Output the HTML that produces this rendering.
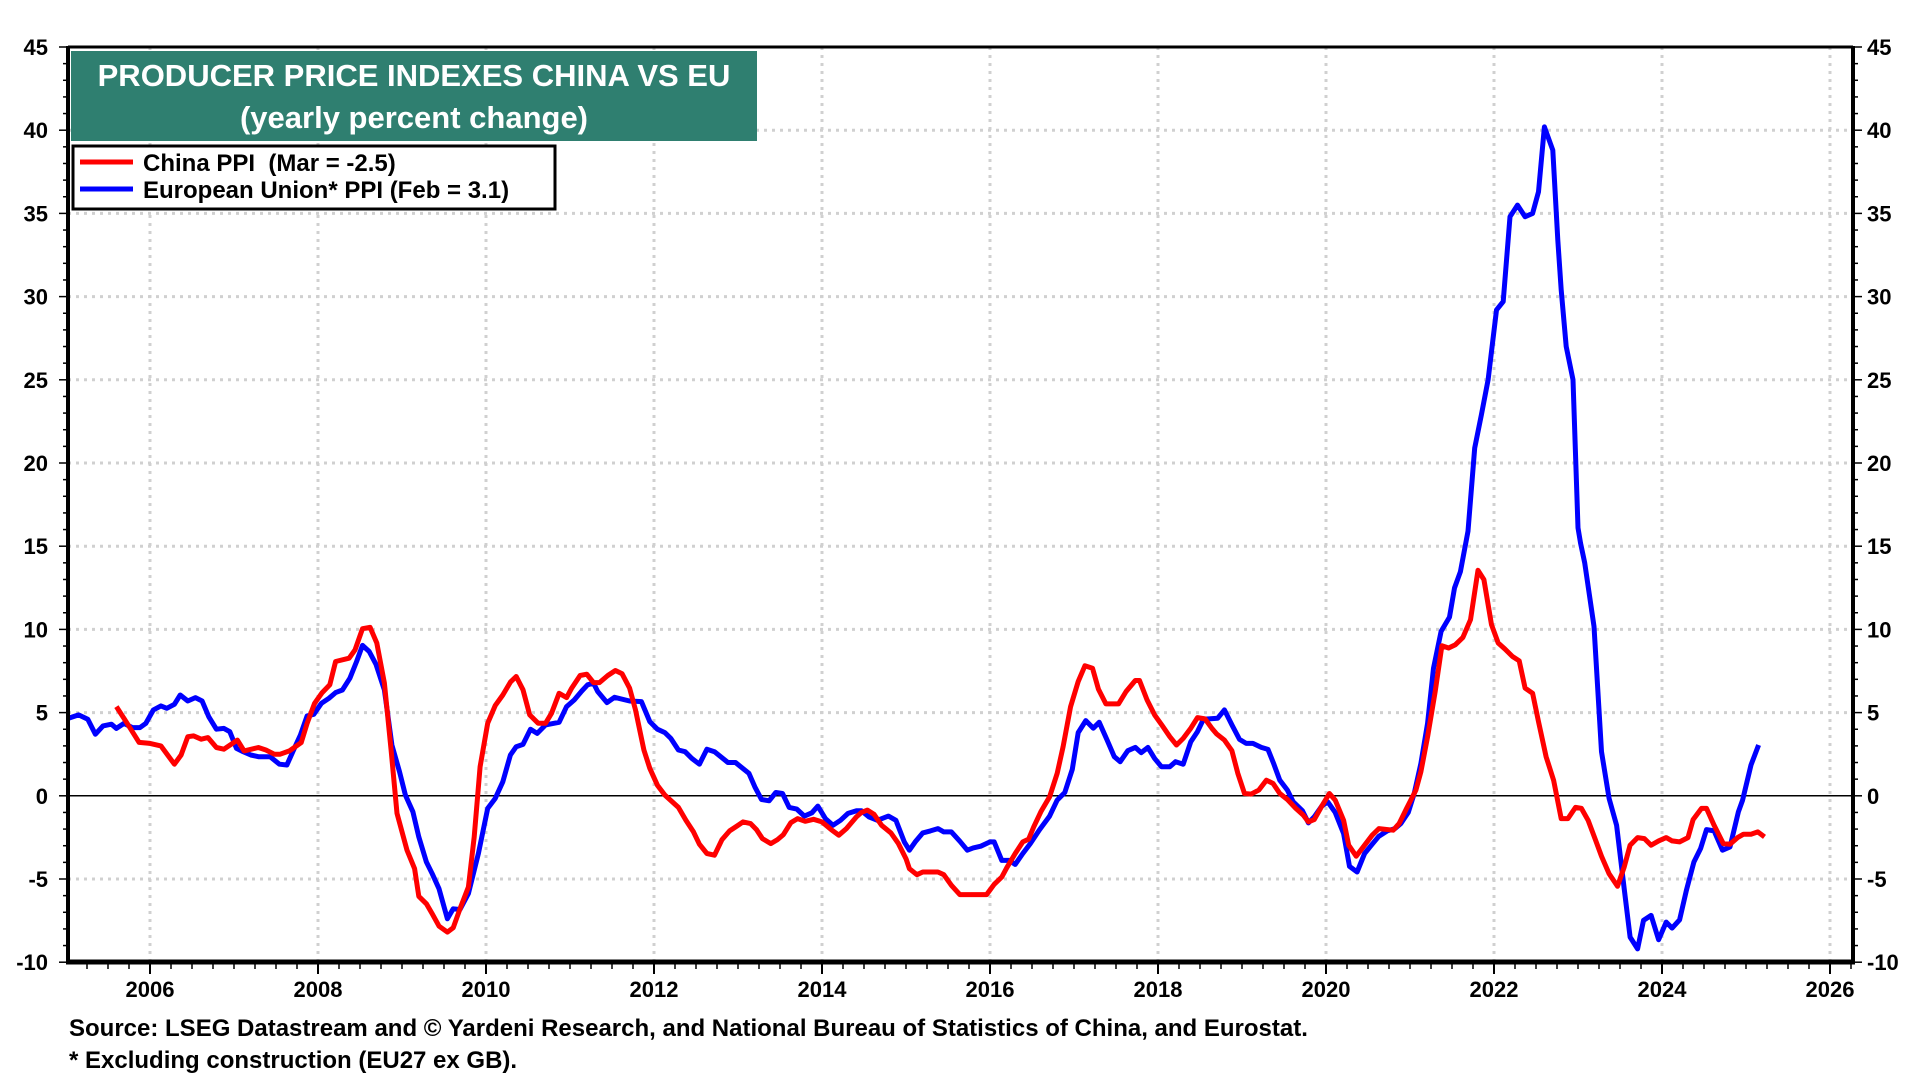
<!DOCTYPE html>
<html><head><meta charset="utf-8"><style>
html,body{margin:0;padding:0;background:#fff;}
svg{display:block;font-family:"Liberation Sans",Arial,sans-serif;font-weight:bold;}
</style></head><body>
<svg id="chart" width="1920" height="1080" viewBox="0 0 1920 1080" xmlns="http://www.w3.org/2000/svg">
<rect width="1920" height="1080" fill="#fff"/>
<g id="grid"></g>
<g id="series"></g>
<g id="axes"></g>
<g>
<rect x="71" y="51" width="686" height="90" fill="#2f7f70"/>
<text x="414" y="86" text-anchor="middle" fill="#fff" font-size="31">PRODUCER PRICE INDEXES CHINA VS EU</text>
<text x="414" y="128" text-anchor="middle" fill="#fff" font-size="31">(yearly percent change)</text>
</g>
<g>
<rect x="73" y="146" width="482" height="63" fill="#fff" stroke="#000" stroke-width="3"/>
<g>
<line x1="80" y1="162" x2="133" y2="162" stroke="#ff0000" stroke-width="5"/>
<text x="143" y="171" font-size="24" xml:space="preserve">China PPI  (Mar = -2.5)</text>
</g>
<g>
<line x1="80" y1="189" x2="133" y2="189" stroke="#0000ff" stroke-width="5"/>
<text x="143" y="198" font-size="24">European Union* PPI (Feb = 3.1)</text>
</g>
</g>
<text x="69" y="1036" font-size="24">Source: LSEG Datastream and © Yardeni Research, and National Bureau of Statistics of China, and Eurostat.</text>
<text x="69" y="1068" font-size="24">* Excluding construction (EU27 ex GB).</text>
</svg>
<script>
const yTicks = [45,40,35,30,25,20,15,10,5,0,-5,-10];
const xTickYears = [2006,2008,2010,2012,2014,2016,2018,2020,2022,2024,2026];
const chinaDates = [2005.6,2005.72,2005.87,2006.0,2006.13,2006.29,2006.37,2006.45,2006.52,2006.61,2006.69,2006.79,2006.88,2007.04,2007.12,2007.29,2007.38,2007.48,2007.55,2007.66,2007.8,2007.87,2007.96,2008.05,2008.14,2008.21,2008.37,2008.44,2008.53,2008.62,2008.7,2008.79,2008.87,2008.94,2009.06,2009.15,2009.2,2009.29,2009.36,2009.44,2009.54,2009.61,2009.69,2009.79,2009.86,2009.93,2010.02,2010.11,2010.2,2010.29,2010.36,2010.44,2010.52,2010.62,2010.71,2010.78,2010.87,2010.96,2011.02,2011.12,2011.2,2011.28,2011.35,2011.45,2011.54,2011.62,2011.71,2011.78,2011.88,2011.95,2012.04,2012.13,2012.29,2012.38,2012.47,2012.54,2012.63,2012.72,2012.81,2012.9,2012.99,2013.06,2013.15,2013.22,2013.29,2013.39,2013.47,2013.54,2013.63,2013.71,2013.8,2013.9,2014.0,2014.11,2014.2,2014.29,2014.41,2014.47,2014.54,2014.62,2014.71,2014.82,2014.91,2015.0,2015.04,2015.13,2015.2,2015.29,2015.38,2015.45,2015.54,2015.64,2015.75,2015.86,2015.96,2016.05,2016.14,2016.2,2016.3,2016.39,2016.46,2016.52,2016.61,2016.71,2016.8,2016.87,2016.96,2017.05,2017.13,2017.22,2017.29,2017.38,2017.53,2017.62,2017.73,2017.78,2017.87,2017.96,2018.05,2018.14,2018.22,2018.3,2018.39,2018.47,2018.56,2018.64,2018.7,2018.79,2018.88,2018.95,2019.03,2019.11,2019.2,2019.29,2019.37,2019.45,2019.54,2019.64,2019.73,2019.79,2019.86,2019.95,2020.04,2020.11,2020.21,2020.27,2020.36,2020.46,2020.55,2020.63,2020.8,2020.87,2020.96,2021.07,2021.13,2021.21,2021.3,2021.38,2021.46,2021.54,2021.63,2021.72,2021.81,2021.88,2021.97,2022.05,2022.13,2022.22,2022.3,2022.37,2022.46,2022.53,2022.62,2022.71,2022.8,2022.88,2022.97,2023.04,2023.12,2023.21,2023.28,2023.37,2023.47,2023.55,2023.62,2023.71,2023.79,2023.87,2023.96,2024.05,2024.12,2024.21,2024.31,2024.37,2024.47,2024.53,2024.62,2024.73,2024.81,2024.9,2024.97,2025.06,2025.14,2025.22];
const chinaValues = [5.36,4.42,3.21,3.15,3.0,1.9,2.45,3.55,3.6,3.4,3.5,2.9,2.8,3.35,2.7,2.9,2.75,2.5,2.5,2.7,3.2,4.35,5.56,6.2,6.67,8.07,8.27,8.77,10.04,10.12,9.18,6.77,2.75,-1.06,-3.27,-4.38,-6.04,-6.49,-7.09,-7.83,-8.19,-7.93,-6.79,-5.48,-2.47,1.75,4.36,5.42,6.06,6.83,7.17,6.37,4.86,4.36,4.36,4.96,6.16,5.9,6.47,7.23,7.31,6.8,6.8,7.23,7.53,7.33,6.47,5.16,2.75,1.65,0.64,0.04,-0.7,-1.47,-2.17,-2.91,-3.47,-3.57,-2.63,-2.11,-1.81,-1.57,-1.67,-2.03,-2.57,-2.87,-2.63,-2.33,-1.61,-1.37,-1.53,-1.41,-1.57,-2.03,-2.37,-1.97,-1.27,-1.0,-0.86,-1.12,-1.77,-2.23,-2.87,-3.78,-4.38,-4.74,-4.58,-4.58,-4.58,-4.74,-5.38,-5.94,-5.94,-5.94,-5.94,-5.32,-4.88,-4.32,-3.47,-2.77,-2.61,-1.87,-0.92,-0.06,1.35,2.95,5.36,6.87,7.81,7.67,6.41,5.52,5.52,6.27,6.93,6.93,5.76,4.86,4.22,3.55,3.05,3.45,4.06,4.7,4.62,4.06,3.71,3.35,2.71,1.35,0.14,0.1,0.34,0.94,0.74,0.14,-0.22,-0.76,-1.16,-1.57,-1.43,-0.62,0.14,-0.26,-1.47,-2.97,-3.63,-2.97,-2.37,-1.97,-2.07,-1.67,-0.76,0.34,1.45,3.55,6.27,9.02,8.88,9.08,9.52,10.58,13.55,12.99,10.28,9.18,8.82,8.37,8.11,6.47,6.16,4.46,2.35,0.94,-1.37,-1.37,-0.7,-0.76,-1.47,-2.67,-3.63,-4.68,-5.44,-4.28,-2.97,-2.51,-2.57,-2.97,-2.71,-2.51,-2.71,-2.77,-2.51,-1.43,-0.76,-0.76,-1.77,-2.87,-2.91,-2.51,-2.31,-2.31,-2.17,-2.47];
const euDates = [2005.03,2005.15,2005.26,2005.35,2005.44,2005.54,2005.6,2005.69,2005.79,2005.88,2005.95,2006.04,2006.13,2006.2,2006.29,2006.36,2006.45,2006.54,2006.62,2006.7,2006.79,2006.88,2006.95,2007.03,2007.11,2007.2,2007.29,2007.43,2007.54,2007.63,2007.7,2007.79,2007.87,2007.95,2008.04,2008.13,2008.21,2008.29,2008.38,2008.46,2008.53,2008.61,2008.69,2008.79,2008.88,2008.97,2009.04,2009.13,2009.2,2009.29,2009.36,2009.44,2009.54,2009.61,2009.69,2009.79,2009.91,2010.02,2010.11,2010.2,2010.29,2010.36,2010.44,2010.53,2010.61,2010.71,2010.87,2010.96,2011.05,2011.14,2011.21,2011.28,2011.33,2011.44,2011.53,2011.71,2011.85,2011.95,2012.04,2012.13,2012.2,2012.29,2012.37,2012.45,2012.54,2012.63,2012.72,2012.88,2012.97,2013.13,2013.2,2013.28,2013.37,2013.45,2013.53,2013.61,2013.7,2013.79,2013.88,2013.95,2014.04,2014.13,2014.22,2014.31,2014.41,2014.47,2014.56,2014.66,2014.79,2014.88,2014.98,2015.04,2015.11,2015.2,2015.29,2015.38,2015.45,2015.54,2015.64,2015.73,2015.8,2015.89,2016.0,2016.05,2016.14,2016.23,2016.3,2016.39,2016.48,2016.59,2016.71,2016.8,2016.89,2016.98,2017.05,2017.14,2017.23,2017.3,2017.39,2017.48,2017.55,2017.64,2017.73,2017.8,2017.88,2017.96,2018.04,2018.14,2018.21,2018.3,2018.39,2018.47,2018.54,2018.71,2018.79,2018.88,2018.97,2019.05,2019.13,2019.23,2019.31,2019.38,2019.45,2019.54,2019.61,2019.72,2019.79,2019.86,2019.95,2020.02,2020.11,2020.21,2020.28,2020.37,2020.46,2020.55,2020.63,2020.73,2020.82,2020.89,2020.98,2021.05,2021.13,2021.21,2021.28,2021.37,2021.47,2021.53,2021.6,2021.69,2021.77,2021.85,2021.93,2022.03,2022.11,2022.19,2022.28,2022.37,2022.46,2022.53,2022.6,2022.7,2022.76,2022.8,2022.86,2022.94,2023.0,2023.03,2023.08,2023.19,2023.28,2023.37,2023.46,2023.55,2023.62,2023.71,2023.78,2023.87,2023.96,2024.05,2024.12,2024.21,2024.29,2024.38,2024.46,2024.53,2024.62,2024.72,2024.81,2024.91,2024.96,2025.06,2025.15];
const euValues = [4.66,4.86,4.6,3.7,4.2,4.3,4.05,4.35,4.1,4.1,4.35,5.16,5.4,5.26,5.5,6.06,5.7,5.9,5.7,4.75,4.0,4.05,3.85,2.85,2.65,2.45,2.35,2.35,1.9,1.85,2.65,3.65,4.8,4.9,5.56,5.86,6.2,6.36,7.07,8.07,9.04,8.67,7.9,6.36,3.05,1.45,0.04,-0.96,-2.47,-3.98,-4.68,-5.58,-7.39,-6.79,-6.83,-5.88,-3.47,-0.76,-0.16,0.84,2.45,2.95,3.09,4.0,3.75,4.26,4.42,5.36,5.76,6.3,6.67,6.77,6.27,5.6,5.92,5.7,5.66,4.46,4.0,3.8,3.45,2.75,2.65,2.25,1.9,2.8,2.65,2.0,2.0,1.35,0.54,-0.22,-0.3,0.2,0.14,-0.7,-0.8,-1.22,-1.02,-0.62,-1.37,-1.77,-1.47,-1.06,-0.9,-0.9,-1.27,-1.47,-1.22,-1.47,-2.77,-3.27,-2.77,-2.23,-2.11,-1.97,-2.17,-2.17,-2.73,-3.27,-3.13,-3.03,-2.77,-2.77,-3.88,-3.88,-4.12,-3.47,-2.87,-2.03,-1.22,-0.26,0.2,1.59,3.8,4.52,4.06,4.42,3.39,2.35,2.05,2.71,2.91,2.59,2.91,2.25,1.75,1.75,2.05,1.9,3.25,3.86,4.6,4.66,5.16,4.26,3.39,3.15,3.15,2.91,2.79,1.9,0.94,0.34,-0.36,-0.9,-1.63,-1.27,-0.62,-0.36,-1.0,-2.27,-4.24,-4.58,-3.47,-2.91,-2.43,-2.11,-1.97,-1.67,-1.0,0.14,1.95,4.36,7.67,9.88,10.74,12.49,13.47,15.9,20.9,22.9,25.0,29.2,29.7,34.8,35.5,34.8,35.0,36.3,40.2,38.8,33.4,30.4,27.0,25.0,16.1,15.2,14.0,10.18,2.65,-0.16,-1.77,-5.58,-8.49,-9.2,-7.49,-7.19,-8.65,-7.59,-7.95,-7.45,-5.68,-3.98,-3.17,-2.03,-2.11,-3.27,-3.07,-0.96,-0.26,1.85,3.05];

const NS = 'http://www.w3.org/2000/svg';
const L = 68, R = 1853, T = 47, B = 962;
function xs(t){ return 150 + (t - 2006) * 84; }
function ys(v){ return 795.8 - v * 16.64; }
function mk(tag, attrs, parent){
  const e = document.createElementNS(NS, tag);
  for (const k in attrs) e.setAttribute(k, attrs[k]);
  parent.appendChild(e);
  return e;
}
const grid = document.getElementById('grid');
const axes = document.getElementById('axes');
const series = document.getElementById('series');

yTicks.forEach(v => {
  if (v === 45 || v === -10 || v === 0) return;
  const g = mk('line', {x1:L, x2:R, y1:ys(v), y2:ys(v), stroke:'#d0d0d0', 'stroke-width':3, 'stroke-dasharray':'3,5'}, grid);
  
  
});
xTickYears.forEach(yr => {
  const g = mk('line', {x1:xs(yr), x2:xs(yr), y1:T, y2:B, stroke:'#d0d0d0', 'stroke-width':3, 'stroke-dasharray':'3,5'}, grid);
  
  
});
const zl = mk('line', {x1:L, x2:R, y1:ys(0), y2:ys(0), stroke:'#000', 'stroke-width':1.5}, grid);



function drawLine(dates, vals, color, name){
  let d = '';
  dates.forEach((t, i) => { d += (i ? 'L' : 'M') + xs(t).toFixed(1) + ',' + ys(vals[i]).toFixed(1); });
  const p = mk('path', {d:d, fill:'none', stroke:color, 'stroke-width':5, 'stroke-linejoin':'round'}, series);
  
  
}
drawLine(euDates, euValues, '#0000ff', 'eu-ppi-line');
drawLine(chinaDates, chinaValues, '#ff0000', 'china-ppi-line');

mk('line', {x1:L, x2:R, y1:T, y2:T, stroke:'#000', 'stroke-width':3}, axes);
const la = mk('line', {x1:L, x2:L, y1:T-1, y2:B+2, stroke:'#000', 'stroke-width':4}, axes);


const ra = mk('line', {x1:R, x2:R, y1:T-1, y2:B+2, stroke:'#000', 'stroke-width':4}, axes);


const ba = mk('line', {x1:L-2, x2:R+2, y1:B, y2:B, stroke:'#000', 'stroke-width':5}, axes);



for (let v = -10; v <= 45; v++) {
  const len = (v % 5 === 0) ? 9 : 5;
  mk('line', {x1:L-len, x2:L, y1:ys(v), y2:ys(v), stroke:'#000', 'stroke-width':1.5}, axes);
  mk('line', {x1:R, x2:R+len, y1:ys(v), y2:ys(v), stroke:'#000', 'stroke-width':1.5}, axes);
}
yTicks.forEach(v => {
  const tl = mk('text', {x:48, y:ys(v)+8, 'text-anchor':'end', 'font-size':22}, axes);
  tl.textContent = v;
  
  
  const tr = mk('text', {x:1867, y:ys(v)+8, 'text-anchor':'start', 'font-size':22}, axes);
  tr.textContent = v;
  
  
});
for (let q = 2005*4; q <= 2026*4+1; q++) {
  const t = q / 4;
  const x = xs(t);
  if (x < L || x > R) continue;
  const major = (q % 8 === 0);
  mk('line', {x1:x, x2:x, y1:B, y2:B + (major ? 12 : 7), stroke:'#000', 'stroke-width':major ? 2 : 1.5}, axes);
}
xTickYears.forEach(yr => {
  const t = mk('text', {x:xs(yr), y:997, 'text-anchor':'middle', 'font-size':22}, axes);
  t.textContent = yr;
  
  
});
</script>
</body></html>
